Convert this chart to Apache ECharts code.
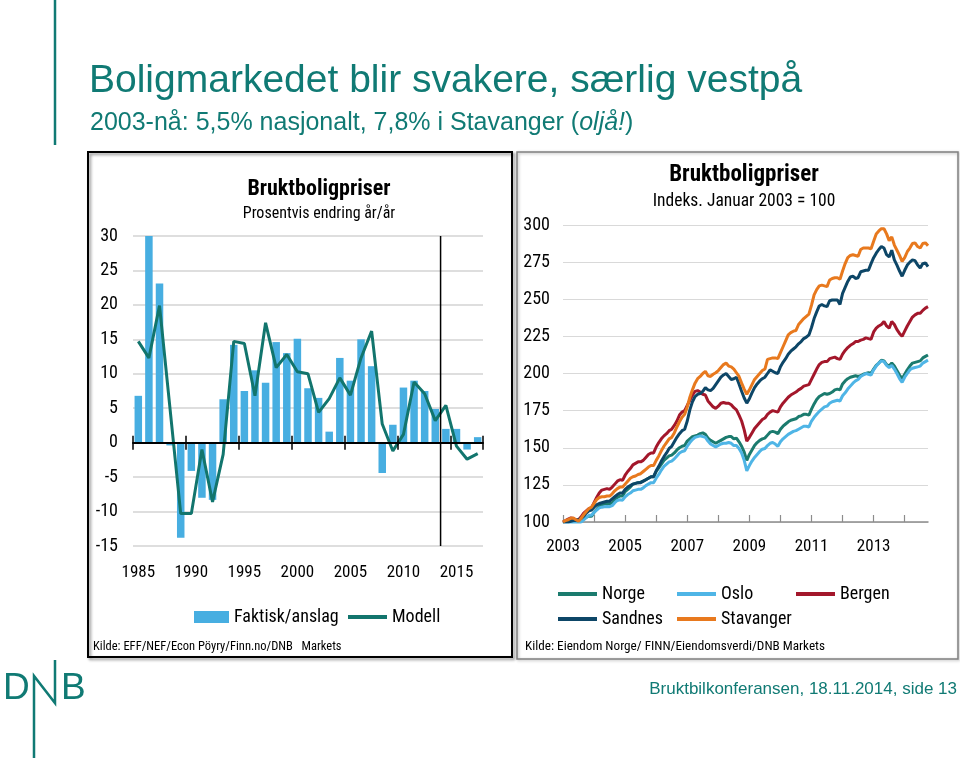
<!DOCTYPE html>
<html><head><meta charset="utf-8">
<script src="https://cdn.jsdelivr.net/npm/echarts@6/dist/echarts.min.js"></script>
<style>html,body{margin:0;padding:0;background:#fff}#c{width:960px;height:758px}</style>
</head><body><div id="c"></div>
<script>
// ---------- Left chart data ----------
const years = ['1985','1986','1987','1988','1989','1990','1991','1992','1993','1994','1995','1996','1997','1998','1999','2000','2001','2002','2003','2004','2005','2006','2007','2008','2009','2010','2011','2012','2013','2014','2015','2016','2017'];
const faktisk = [6.8,30.0,23.1,-0.4,-13.8,-4.1,-8.0,-8.3,6.3,14.2,7.5,10.5,8.7,14.6,13.0,15.1,7.9,6.5,1.6,12.3,9.0,15.0,11.1,-4.4,2.6,8.0,9.0,7.5,4.9,2.0,2.0,-1.0,0.8];
const modell = [14.7,12.3,19.9,4.8,-10.3,-10.3,-1.0,-8.6,-1.7,14.7,14.4,6.8,17.4,10.9,12.8,10.3,10.0,4.4,6.4,9.4,6.9,12.3,16.2,2.7,-1.2,1.2,8.8,7.1,3.2,5.4,-0.5,-2.4,-1.6];
const forecastStart = 28.5; // boundary between 2013 and 2014 (category index)
const leftYTicks = [-15,-10,-5,0,5,10,15,20,25,30];

// ---------- Right chart data (monthly, Jan 2003 - Oct 2014) ----------
const months = [];
for (let y = 2003; y <= 2014; y++) for (let m = 1; m <= 12; m++) { if (y === 2014 && m > 10) break; months.push(y + '-' + (m < 10 ? '0' : '') + m); }
const rightYTicks = [100,125,150,175,200,225,250,275,300];
const norge = [
100.0,100.2,100.5,101.0,100.8,100.5,100.3,101.2,102.3,103.2,104.0,103.8,
106.5,108.5,110.5,111.5,112.0,112.5,112.3,113.0,115.0,116.5,117.5,117.5,
120.5,122.0,123.5,125.5,126.0,126.5,126.8,127.5,128.5,129.5,130.5,130.5,
134.0,136.5,139.0,141.5,143.0,144.5,145.0,146.5,148.5,150.0,151.0,151.5,
154.5,156.0,157.5,158.0,158.5,159.5,160.0,159.0,156.5,155.0,154.0,153.0,
154.0,155.0,156.0,157.0,157.5,157.5,156.0,156.5,154.0,151.0,147.0,141.5,
145.5,148.5,151.5,153.5,155.0,156.0,156.5,158.5,160.5,161.0,160.5,159.5,
162.5,164.5,166.0,167.5,168.5,169.0,169.5,171.0,171.5,172.5,172.5,172.0,
176.0,179.5,182.5,184.5,185.5,186.5,186.0,186.5,187.5,189.0,189.5,189.0,
193.0,195.0,196.5,197.5,198.0,198.5,198.0,198.5,199.5,200.0,200.5,200.0,
203.0,205.5,207.0,209.0,208.5,206.0,205.0,207.0,205.0,202.0,199.0,196.5,
199.5,202.5,205.0,207.0,207.5,208.0,208.5,210.5,211.5,212.5];
const oslo = [
100.0,99.8,99.5,99.5,99.2,99.0,98.8,100.0,101.5,103.0,104.5,104.5,
106.5,108.0,109.5,110.0,110.3,110.5,110.3,111.0,113.0,114.5,115.0,114.7,
117.0,118.5,119.5,121.0,121.5,122.0,122.0,123.0,124.5,125.5,126.5,126.5,
129.5,132.0,135.0,137.5,139.0,140.5,141.0,142.5,144.5,146.5,147.5,148.0,
151.0,153.5,155.5,157.0,157.5,158.0,157.5,157.0,154.5,152.5,151.5,150.5,
151.5,152.5,153.0,153.0,153.5,153.0,151.5,151.5,149.5,146.5,141.5,134.5,
138.0,141.0,143.5,145.5,147.5,149.0,149.5,151.5,153.0,153.5,152.5,151.0,
154.0,156.0,157.5,159.0,160.0,161.0,161.5,162.5,163.5,164.5,164.5,164.0,
168.0,170.5,172.5,174.5,176.0,177.5,178.0,180.0,181.0,181.5,182.0,181.5,
185.0,187.0,189.5,191.5,193.5,195.0,196.0,198.0,199.0,200.0,199.5,199.0,
202.5,205.0,207.0,208.5,208.0,205.5,204.0,205.5,203.0,200.0,196.5,194.0,
197.5,200.0,202.5,203.5,204.0,204.5,205.0,207.0,208.0,209.0];
const bergen = [
100.0,101.0,102.0,102.7,102.3,101.5,101.5,103.5,106.0,107.5,109.0,109.5,
113.0,116.5,119.5,121.5,122.0,122.5,122.0,123.5,125.5,127.5,128.5,128.0,
131.5,134.0,136.0,138.5,139.5,140.5,140.5,141.5,143.5,145.5,146.5,146.5,
150.5,153.5,156.0,158.0,159.5,161.5,162.5,165.0,168.0,172.0,174.0,175.0,
178.5,182.0,185.5,188.0,188.5,187.5,186.0,185.5,181.5,179.5,177.5,176.5,
178.0,180.0,180.5,180.0,180.0,179.0,177.0,175.5,172.0,168.0,162.0,154.5,
157.0,160.0,163.0,165.0,167.0,169.0,170.0,172.5,174.0,175.0,174.5,174.0,
177.5,180.0,182.0,184.0,185.5,186.5,187.5,189.0,190.0,191.5,192.0,192.5,
196.0,199.5,203.0,206.0,207.5,208.0,208.0,210.0,210.5,211.0,210.0,209.5,
213.0,215.5,217.5,219.0,220.0,221.5,221.5,222.5,223.0,224.0,223.5,223.0,
228.0,230.5,232.0,233.0,235.0,232.0,230.5,235.0,233.0,229.5,227.0,225.0,
228.5,232.0,235.0,238.0,239.5,240.5,240.5,242.5,244.0,245.0];
const sandnes = [
100.0,100.0,100.0,100.5,101.0,101.0,101.5,102.5,104.0,106.0,107.5,108.0,
110.0,111.5,112.5,113.0,113.5,114.0,114.0,115.5,117.0,118.5,119.5,119.5,
122.0,123.5,124.5,125.5,126.0,126.5,126.5,127.5,128.5,129.5,130.5,130.5,
134.5,137.5,141.0,144.0,146.5,149.5,151.0,154.0,157.0,159.5,161.5,162.5,
168.0,175.5,181.0,184.5,186.0,186.5,188.0,190.5,189.0,188.5,190.0,192.5,
195.0,197.5,199.0,200.0,198.0,196.0,196.5,197.5,193.0,188.0,183.5,180.0,
183.0,187.0,190.5,193.0,195.0,196.5,197.5,200.0,202.5,201.5,200.5,200.0,
204.5,207.5,210.0,213.0,215.0,216.5,218.0,220.0,221.5,223.5,224.5,226.0,
231.0,237.0,241.5,245.5,246.5,245.5,245.0,249.0,249.5,249.5,249.5,246.5,
254.0,258.0,262.0,265.0,265.5,264.0,264.5,268.5,269.0,269.5,269.5,274.0,
278.0,281.0,283.5,285.5,284.5,280.0,278.5,283.0,276.5,273.0,269.0,265.5,
269.5,273.0,275.0,276.5,276.0,273.0,271.0,274.0,274.5,272.0];
const stavanger = [
100.0,101.0,101.5,102.5,102.7,101.5,100.5,102.5,105.0,107.0,109.0,110.0,
112.5,115.0,116.5,117.0,117.0,117.5,117.5,119.0,121.0,122.5,123.5,123.5,
125.5,127.5,129.5,130.5,131.0,132.0,132.5,134.0,135.5,137.0,138.0,138.0,
141.5,144.5,148.0,151.0,153.5,156.0,157.0,160.0,164.0,167.5,170.5,172.5,
177.5,184.0,189.0,193.5,196.5,198.0,200.0,201.5,198.5,198.0,199.5,200.5,
202.0,204.0,206.0,207.0,205.0,204.5,203.0,200.5,198.0,193.5,189.5,186.0,
189.0,192.5,196.0,198.0,200.0,202.0,203.0,209.5,210.0,210.5,210.5,210.0,
214.0,218.0,222.0,226.0,227.5,228.5,229.0,233.0,235.0,237.0,238.5,240.0,
246.0,253.0,256.5,259.0,259.5,259.0,258.5,263.0,264.0,264.5,264.5,263.5,
269.0,274.0,278.0,279.5,280.0,279.5,279.0,283.5,284.5,284.5,284.5,284.0,
289.0,294.0,296.0,297.5,297.5,294.0,289.5,292.0,286.5,283.0,279.5,275.5,
278.0,282.0,284.5,287.5,288.0,285.5,284.5,287.5,288.0,286.0];

const NARROW = '"Roboto Condensed","Liberation Sans Narrow","Arial Narrow",Roboto,sans-serif';
const SANS = '"Liberation Sans",Arial,sans-serif';
const TEAL = '#107a74';
const C = {bar:'#47aee1', modell:'#12756d', norge:'#1b7b6e', oslo:'#4fb5e6', bergen:'#a3172b', sandnes:'#0d4667', stavanger:'#e8791e'};

const chart = echarts.init(document.getElementById('c'), null, {renderer:'canvas'});

function lineSeries(name, data, color){
  return {name, type:'line', xAxisIndex:4, yAxisIndex:1, data, symbol:'none', showSymbol:false,
    lineStyle:{color, width:3}, itemStyle:{color}, z:3};
}
function leg(name, left, top, w){
  return {data:[name], left, top, icon:'rect', itemWidth:w, itemHeight:4, itemGap:0, padding:0,
    textStyle:{fontFamily:NARROW, fontSize:18, color:'#000'}};
}

const option = {
  animation:false,
  textStyle:{fontFamily:NARROW},
  title:[
    {text:'Bruktboligpriser', subtext:'Prosentvis endring år/år', left:314, top:173, textAlign:'center', itemGap:6,
      textStyle:{fontFamily:NARROW, fontSize:22, fontWeight:'bold', color:'#000'},
      subtextStyle:{fontFamily:NARROW, fontSize:16, color:'#000'}},
    {text:'Bruktboligpriser', subtext:'Indeks. Januar 2003 = 100', left:739, top:159, textAlign:'center', itemGap:6,
      textStyle:{fontFamily:NARROW, fontSize:23, fontWeight:'bold', color:'#000'},
      subtextStyle:{fontFamily:NARROW, fontSize:17.5, color:'#000'}}
  ],
  legend:[
    {data:['Faktisk/anslag'], left:194, top:608, icon:'rect', itemWidth:35, itemHeight:12, padding:0,
      textStyle:{fontFamily:NARROW, fontSize:18, color:'#000'}},
    {data:['Modell'], left:348, top:608, icon:'rect', itemWidth:39, itemHeight:4, padding:0,
      textStyle:{fontFamily:NARROW, fontSize:18, color:'#000'}},
    leg('Norge', 558, 585, 39),
    leg('Oslo', 677, 585, 39),
    leg('Bergen', 796, 585, 39),
    leg('Sandnes', 558, 610, 39),
    leg('Stavanger', 677, 610, 39)
  ],
  grid:[
    {left:133, top:236, width:350, height:310},
    {left:563, top:225, width:365, height:297}
  ],
  xAxis:[
    {gridIndex:0, type:'category', data:years, position:'bottom', axisLine:{show:false, onZero:false},
      axisTick:{show:false}, splitLine:{show:false},
      axisLabel:{interval:4, color:'#000', fontSize:17, fontFamily:NARROW, margin:18}},
    {gridIndex:0, type:'category', data:years, position:'bottom', axisLine:{show:true, onZero:true, onZeroAxisIndex:0, lineStyle:{color:'#000', width:2}},
      axisTick:{show:true, interval:4, length:7, lineStyle:{color:'#000', width:1.5}}, axisLabel:{show:false}, z:5},
    {gridIndex:0, type:'category', data:years, position:'bottom', axisLine:{show:false, onZero:true, onZeroAxisIndex:2},
      axisTick:{show:true, inside:true, interval:4, length:7, lineStyle:{color:'#000', width:1.5}}, axisLabel:{show:false}, z:5},
    {gridIndex:0, type:'value', min:-0.5, max:years.length-0.5, show:false},
    {gridIndex:1, type:'category', data:months, boundaryGap:false,
      axisLine:{lineStyle:{color:'#8c8c8c', width:1.5}},
      axisTick:{inside:true, interval:11, length:7, lineStyle:{color:'#8c8c8c', width:1.2}},
      axisLabel:{interval:23, color:'#000', fontSize:17, fontFamily:NARROW, margin:16, formatter:v=>v.slice(0,4)},
      splitLine:{show:false}}
  ],
  yAxis:[
    {gridIndex:0, type:'value', min:leftYTicks[0], max:leftYTicks[leftYTicks.length-1], interval:5,
      axisLine:{show:false}, axisTick:{show:false},
      splitLine:{lineStyle:{color:'#d3d3d3', width:1.5}},
      axisLabel:{color:'#000', fontSize:18, fontFamily:NARROW, margin:15}},
    {gridIndex:1, type:'value', min:rightYTicks[0], max:rightYTicks[rightYTicks.length-1], interval:25,
      axisLine:{show:false}, axisTick:{show:false},
      splitLine:{lineStyle:{color:'#d9d9d9', width:1.2}},
      axisLabel:{color:'#000', fontSize:18, fontFamily:NARROW, margin:13}},
    {gridIndex:0, type:'value', min:leftYTicks[0], max:leftYTicks[leftYTicks.length-1], interval:5, show:false}
  ],
  series:[
    {name:'Faktisk/anslag', type:'bar', xAxisIndex:0, yAxisIndex:0, data:faktisk, barWidth:7.5,
      itemStyle:{color:C.bar}, z:2},
    {name:'Modell', type:'line', xAxisIndex:0, yAxisIndex:0, data:modell, symbol:'none', showSymbol:false,
      lineStyle:{color:C.modell, width:3}, itemStyle:{color:C.modell}, z:3},
    {name:'divider', type:'line', xAxisIndex:3, yAxisIndex:0, data:[[forecastStart,-15],[forecastStart,30]],
      symbol:'none', lineStyle:{color:'#000', width:1.5}, silent:true, z:4},
    lineSeries('Norge', norge, C.norge),
    lineSeries('Oslo', oslo, C.oslo),
    lineSeries('Bergen', bergen, C.bergen),
    lineSeries('Sandnes', sandnes, C.sandnes),
    lineSeries('Stavanger', stavanger, C.stavanger)
  ],
  graphic:[
    {type:'rect', shape:{x:88, y:152, width:424, height:505}, style:{fill:null, stroke:'#000', lineWidth:2,
      shadowBlur:3, shadowOffsetX:2, shadowOffsetY:2, shadowColor:'rgba(0,0,0,0.45)'}, z:-1, silent:true},
    {type:'rect', shape:{x:517, y:152, width:441, height:507}, style:{fill:null, stroke:'#808080', lineWidth:1.5,
      shadowBlur:3, shadowOffsetX:1, shadowOffsetY:1, shadowColor:'rgba(0,0,0,0.3)'}, z:-1, silent:true},
    {type:'text', left:93, top:640, style:{text:'Kilde: EFF/NEF/Econ Pöyry/Finn.no/DNB   Markets', font:'12.5px '+NARROW, fill:'#000'}},
    {type:'text', left:525, top:640, style:{text:'Kilde: Eiendom Norge/ FINN/Eiendomsverdi/DNB Markets', font:'13.2px '+NARROW, fill:'#000'}},
    {type:'text', left:89, top:62, style:{text:'Boligmarkedet blir svakere, særlig vestpå', font:'39px '+SANS, fill:TEAL}},
    {type:'text', left:90, top:111, style:{text:'2003-nå: 5,5% nasjonalt, 7,8% i Stavanger ({i|oljå!})', font:'25px '+SANS, fill:TEAL,
      rich:{i:{fontStyle:'italic', fontSize:25, fontFamily:SANS, fill:TEAL}}}},
    {type:'text', right:3, top:681, style:{text:'Bruktbilkonferansen, 18.11.2014, side 13', font:'17px '+SANS, fill:TEAL}},
    {type:'line', shape:{x1:55, y1:0, x2:55, y2:145}, style:{stroke:TEAL, lineWidth:2.5}},
    {type:'text', left:3, top:670, style:{text:'D', font:'37px '+SANS, fill:TEAL}},
    {type:'text', left:61, top:670, style:{text:'B', font:'37px '+SANS, fill:TEAL}},
    {type:'polyline', shape:{points:[[34,758],[34,676],[55,703],[55,660]]}, style:{stroke:TEAL, lineWidth:2.5, fill:null}}
  ]
};
chart.setOption(option);
</script></body></html>
